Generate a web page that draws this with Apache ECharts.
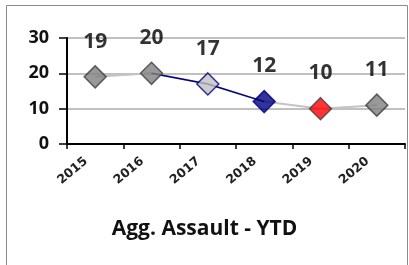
<!DOCTYPE html>
<html>
<head>
<meta charset="utf-8">
<script src="https://cdn.jsdelivr.net/npm/echarts@6/dist/echarts.min.js"></script>
<style>
  html, body { margin: 0; padding: 0; background: #fff; }
  #chart { width: 409px; height: 265px; }
</style>
</head>
<body>
<div id="chart"></div>
<script>
var years = ['2015', '2016', '2017', '2018', '2019', '2020']
var values = [19, 20, 17, 12, 10, 11]
// navy part of the line goes 2016 -> 2018
var navyPart = ['-', 20, 17, 12, '-', '-']
var markerFill = ['#808080', '#808080', '#c0c0c0', '#000080', '#ff0000', '#808080']
var markerEdge = ['#404040', '#404040', '#000080', '#000080', '#404040', '#404040']

var chart = echarts.init(document.getElementById('chart'))

var points = values.map(function (v, i) {
  return {
    value: v,
    itemStyle: { color: markerFill[i], borderColor: markerEdge[i], borderWidth: 1.5 }
  }
})

chart.setOption({
  animation: false,
  grid: { left: 67, right: 4, top: 38, bottom: 121 },
  graphic: [{
    type: 'rect',
    shape: { x: 6.5, y: 5.5, width: 401, height: 270 },
    style: { fill: 'none', stroke: '#8c8c8c', lineWidth: 1 },
    silent: true
  }],
  title: {
    text: 'Agg. Assault - YTD',
    left: 'center',
    top: 214,
    textStyle: { fontFamily: 'Open Sans', fontWeight: 'bold', fontSize: 21, color: '#111' }
  },
  xAxis: {
    type: 'category',
    data: years,
    boundaryGap: true,
    axisLine: { lineStyle: { color: '#000', width: 2 } },
    axisTick: { show: true, length: 5, lineStyle: { color: '#000', width: 1.5 } },
    axisLabel: {
      rotate: 40,
      margin: 8,
      padding: [0, 12, 0, 0],
      fontFamily: 'DejaVu Sans',
      fontWeight: 'bold',
      fontSize: 12.5,
      color: '#222'
    }
  },
  yAxis: {
    type: 'value',
    min: 0,
    max: 30,
    interval: 10,
    axisLine: { show: true, lineStyle: { color: '#000', width: 2 } },
    axisTick: { show: true, length: 8, lineStyle: { color: '#000', width: 1.5 } },
    axisLabel: {
      margin: 18,
      fontFamily: 'Open Sans',
      fontWeight: 'bold',
      fontSize: 18,
      color: '#111'
    },
    splitLine: { lineStyle: { color: '#c0c0c0', width: 2 } }
  },
  series: [
    {
      type: 'line',
      data: values,
      symbol: 'none',
      lineStyle: { color: '#c4c4c4', width: 2 },
      z: 2
    },
    {
      type: 'line',
      data: navyPart,
      symbol: 'none',
      lineStyle: { color: '#000080', width: 1.5 },
      z: 3
    },
    {
      type: 'scatter',
      data: points,
      symbol: 'diamond',
      symbolSize: 22,
      z: 4,
      label: {
        show: true,
        position: 'top',
        distance: 13,
        fontFamily: 'Open Sans',
        fontWeight: 'bold',
        fontSize: 21,
        color: '#000'
      }
    }
  ]
})
</script>
</body>
</html>
